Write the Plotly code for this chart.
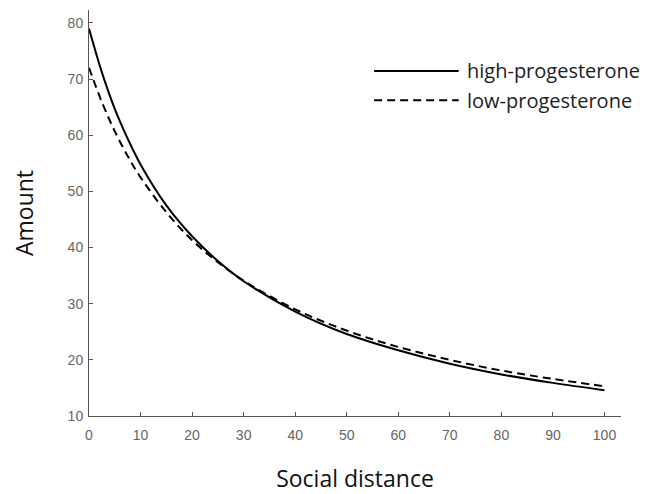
import plotly.graph_objects as go

# Data
social_distance = [0, 2.5, 5, 7.5, 10, 15, 20, 25, 30, 40, 50, 60, 70, 80, 90, 100]
high_progesterone = [79.0, 71.2, 64.7, 59.4, 54.8, 47.5, 42.0, 37.6, 34.0, 28.6, 24.6, 21.7, 19.3, 17.4, 15.9, 14.6]
low_progesterone = [72.0, 65.9, 60.7, 56.3, 52.5, 46.3, 41.3, 37.4, 34.1, 29.0, 25.2, 22.3, 20.0, 18.1, 16.6, 15.3]

series_names = ["high-progesterone", "low-progesterone"]
x_ticks = [0, 10, 20, 30, 40, 50, 60, 70, 80, 90, 100]
y_ticks = [10, 20, 30, 40, 50, 60, 70, 80]

DASH = "8px,5px"
TEXT_FONT = "Open Sans, Noto Sans"

fig = go.Figure()
fig.add_trace(go.Scatter(
    x=social_distance, y=high_progesterone, mode="lines", name=series_names[0],
    line=dict(color="black", width=2, shape="spline"), showlegend=False,
))
fig.add_trace(go.Scatter(
    x=social_distance, y=low_progesterone, mode="lines", name=series_names[1],
    line=dict(color="black", width=2, dash=DASH, shape="spline"), showlegend=False,
))

axis_common = dict(
    showline=True, linecolor="#555", linewidth=1, showgrid=False, zeroline=False,
    ticks="inside", ticklen=4, tickcolor="#555", tickwidth=1,
    tickfont=dict(family="Liberation Sans, Arial", size=14, color="#666"),
    mirror=False, automargin=False,
)

# Manual legend (long line samples as in the reference)
legend_rows = [(0.850, "solid"), (0.778, DASH)]
shapes = []
annotations = []
for (ypos, dash), name in zip(legend_rows, series_names):
    shapes.append(dict(type="line", xref="paper", yref="paper",
                       x0=0.536, x1=0.695, y0=ypos, y1=ypos,
                       line=dict(color="black", width=2, dash=dash)))
    annotations.append(dict(xref="paper", yref="paper", x=0.706, y=ypos,
                            xanchor="left", yanchor="middle", showarrow=False,
                            text=name, font=dict(family=TEXT_FONT, size=20, color="#222")))

# The page body adds an 8px offset, so the figure is 8px smaller and margins shifted
fig.update_layout(
    width=643, height=486,
    margin=dict(l=81, r=30, t=2, b=78),
    paper_bgcolor="white", plot_bgcolor="white",
    showlegend=False,
    shapes=shapes,
    annotations=annotations,
    xaxis=dict(
        range=[0, 103.2], tickvals=x_ticks, ticklabelstandoff=6,
        title=dict(text="Social distance", standoff=33,
                   font=dict(family=TEXT_FONT, size=23, color="#111")),
        **axis_common,
    ),
    yaxis=dict(
        range=[10, 82.3], tickvals=y_ticks, ticklabelstandoff=2,
        title=dict(text="Amount", standoff=28,
                   font=dict(family=TEXT_FONT, size=23, color="#111")),
        **axis_common,
    ),
)

fig.write_html("out.html")
